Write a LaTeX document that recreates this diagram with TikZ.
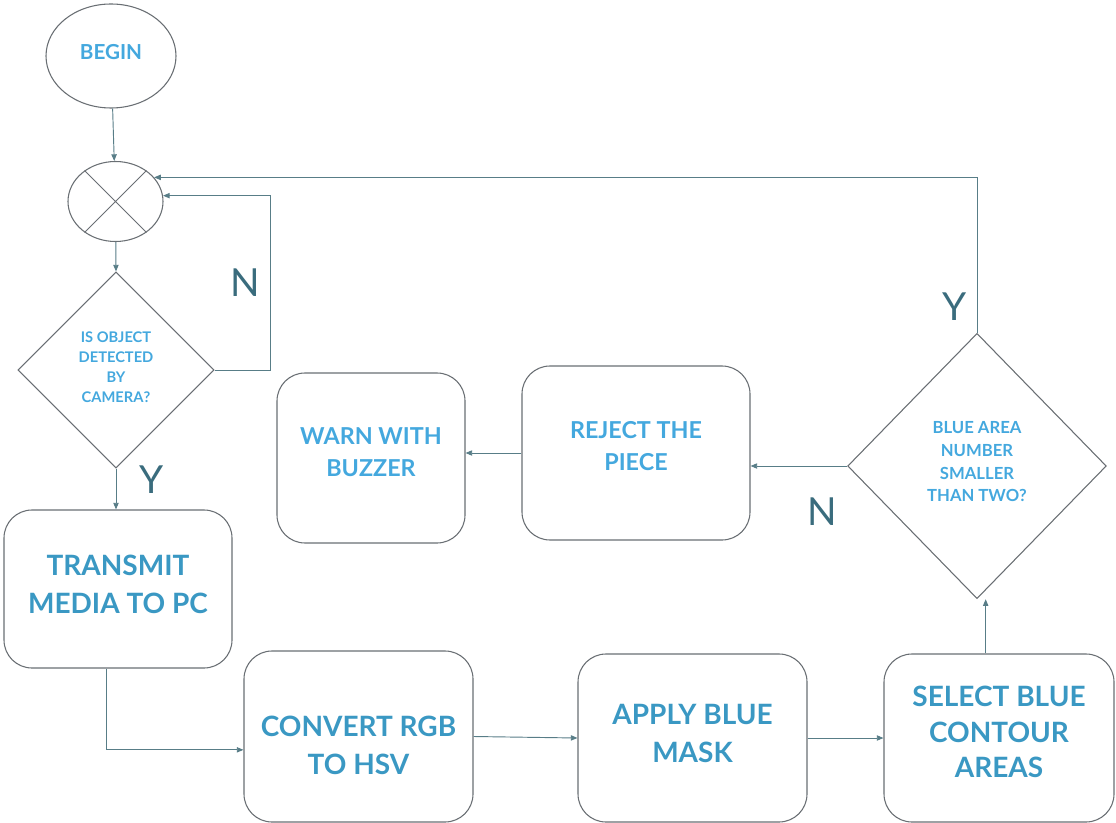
\documentclass[tikz,border=0pt]{standalone}
\usepackage{fontspec}
\setmainfont{Lato}
\usetikzlibrary{shapes.geometric,arrows.meta}
\definecolor{linec}{RGB}{88,125,135}
\definecolor{shapec}{RGB}{105,110,115}
\definecolor{skyb}{RGB}{68,168,222}
\definecolor{tealb}{RGB}{58,152,195}
\definecolor{yncol}{RGB}{58,108,125}
\tikzset{
  shp/.style={draw=shapec, line width=0.8pt, inner sep=0pt},
  rbox/.style={shp, rectangle, rounded corners=21pt},
  txt/.style={align=center, inner sep=0pt},
  bigtxt/.style={txt, text=tealb, font=\fontsize{21}{28.5}\selectfont\bfseries},
  midtxt/.style={txt, text=skyb, font=\fontsize{17.5}{24.5}\selectfont\bfseries},
  dec/.style={shp, diamond, aspect=1},
  arr/.style={draw=linec, line width=0.7pt, -{Triangle[length=5pt,width=4pt]}},
  yn/.style={text=yncol, font=\fontsize{29}{29}\selectfont}
}
\begin{document}
\begin{tikzpicture}[x=0.75pt,y=-0.75pt]
\useasboundingbox (0,0) rectangle (1116,823);
% start and junction
\node[shp, ellipse, minimum width=97.5pt, minimum height=78pt] (begin) at (111,56) {};
\node[txt, text=skyb, font=\fontsize{15.5}{18}\selectfont\bfseries] (begint) at ([yshift=3pt]begin.center) {BEGIN};
\node[shp, ellipse, minimum width=71.25pt, minimum height=60pt] (junc) at (115.5,201.5) {};
\draw[draw=shapec, line width=0.7pt] (junc.45) -- (junc.225) (junc.135) -- (junc.-45);
% decisions
\node[dec, minimum width=147pt, minimum height=147pt] (d1) at (116,370) {};
\node[txt, text=skyb, font=\fontsize{11}{15}\selectfont\bfseries] (d1t) at ([yshift=2.25pt]d1.center)
      {IS OBJECT\\DETECTED\\BY\\CAMERA?};
\node[dec, minimum width=194pt, minimum height=199pt] (d2) at (977,466) {};
\node[txt, text=skyb, font=\fontsize{12.5}{17}\selectfont\bfseries] (d2t) at ([yshift=3pt]d2.center)
      {BLUE AREA\\NUMBER\\SMALLER\\THAN TWO?};
% process boxes
\node[rbox, minimum width=171pt, minimum height=118.5pt] (tx) at (118,589) {};
\node[bigtxt] (txt1) at ([yshift=3.75pt]tx.center) {TRANSMIT\\MEDIA TO PC};
\node[rbox, minimum width=171.75pt, minimum height=128.25pt] (cv) at (358.5,736.5) {};
\node[bigtxt] (cvt) at ([yshift=-7pt]cv.center) {CONVERT RGB\\TO HSV};
\node[rbox, minimum width=171.75pt, minimum height=126pt] (ap) at (692.5,738) {};
\node[bigtxt] (apt) at ([yshift=3.75pt]ap.center) {APPLY BLUE\\MASK};
\node[rbox, minimum width=172.5pt, minimum height=126pt] (sel) at (999,738) {};
\node[bigtxt, font=\fontsize{21}{26.5}\selectfont\bfseries] (selt) at ([yshift=4.5pt]sel.center) {SELECT BLUE\\CONTOUR\\AREAS};
\node[rbox, minimum width=171pt, minimum height=130.5pt] (rj) at (636,453) {};
\node[midtxt] (rjt) at ([yshift=5.25pt]rj.center) {REJECT THE\\PIECE};
\node[rbox, minimum width=141pt, minimum height=127.5pt] (wn) at (371,458) {};
\node[midtxt] (wnt) at ([yshift=4.5pt]wn.center) {WARN WITH\\BUZZER};
% connectors
\coordinate (nloop) at (270,370);
\draw[arr] (begin) -- (junc);
\draw[arr] (junc) -- (d1.north);
\draw[arr] (d1.east) -- (nloop) |- (junc.7);
\draw[arr] (d1.south) -- (d1.south |- tx.north);
\draw[arr] ([xshift=-9pt]tx.south) |- ([yshift=-10pt]cv.west);
\draw[arr] (cv.east) -- (ap.west);
\draw[arr] (ap.east) -- (sel.west);
\draw[arr] ([xshift=-10pt]sel.north) -- ([xshift=-10pt]sel.north |- d2.south);
\draw[arr] (d2.north) |- (junc.32);
\draw[arr] (d2.west) -- (d2.west -| rj.east);
\draw[arr] (rj.west) -- (rj.west -| wn.east);
% labels
\node[yn] (lN1) at (245,283) {N};
\node[yn] (lY1) at (152,480) {Y};
\node[yn] (lY2) at (955,307) {Y};
\node[yn] (lN2) at (822,512) {N};
\end{tikzpicture}
\end{document}
